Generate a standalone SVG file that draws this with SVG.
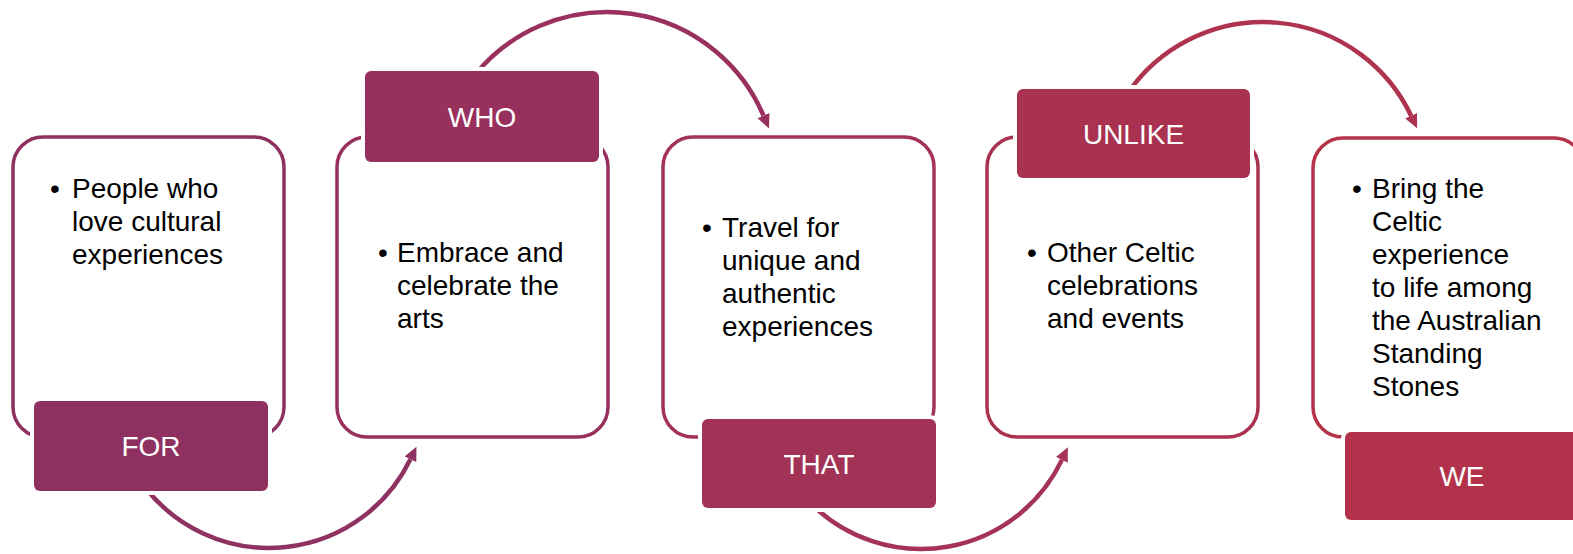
<svg xmlns="http://www.w3.org/2000/svg" width="1573" height="554" viewBox="0 0 1573 554">
  <style>
    .box { fill: #ffffff; stroke-width: 3.5; }
    .lbl { stroke: #ffffff; stroke-width: 8; paint-order: stroke; }
    .lt { font-family: "Liberation Sans", Arial, sans-serif; font-size: 28px; fill: #ffffff; text-anchor: middle; }
    .bt { font-family: "Liberation Sans", Arial, sans-serif; font-size: 28px; fill: #000000; }
    .arc { fill: none; stroke-width: 4.5; }
  </style>
  <defs>
    <marker id="ah1" markerUnits="userSpaceOnUse" viewBox="0 -7 16 14" refX="0" refY="0" markerWidth="16" markerHeight="14" orient="auto"><path d="M0,-6.5 L14,0 L0,6.5 Z" fill="#8F3262"/></marker>
    <marker id="ah2" markerUnits="userSpaceOnUse" viewBox="0 -7 16 14" refX="0" refY="0" markerWidth="16" markerHeight="14" orient="auto"><path d="M0,-6.5 L14,0 L0,6.5 Z" fill="#99305E"/></marker>
    <marker id="ah3" markerUnits="userSpaceOnUse" viewBox="0 -7 16 14" refX="0" refY="0" markerWidth="16" markerHeight="14" orient="auto"><path d="M0,-6.5 L14,0 L0,6.5 Z" fill="#A43357"/></marker>
    <marker id="ah4" markerUnits="userSpaceOnUse" viewBox="0 -7 16 14" refX="0" refY="0" markerWidth="16" markerHeight="14" orient="auto"><path d="M0,-6.5 L14,0 L0,6.5 Z" fill="#AE334E"/></marker>
  </defs>

  <g id="connectors">
    <path class="arc" stroke="#8F3262" d="M145.6,488 A157,157 0 0 0 410.4,459.3" marker-end="url(#ah1)"/>
    <path class="arc" stroke="#99305E" d="M475.7,74 A170,170 0 0 1 763.5,115.6" marker-end="url(#ah2)"/>
    <path class="arc" stroke="#A43357" d="M812.4,505 A156,156 0 0 0 1061.9,459.9" marker-end="url(#ah3)"/>
    <path class="arc" stroke="#AE334E" d="M1128.6,92 A164,164 0 0 1 1411.1,115.7" marker-end="url(#ah4)"/>
  </g>

  <g id="node-for">
    <rect class="box" x="13" y="137" width="271" height="300" rx="30" stroke="#8E3160"/>
    <text class="bt" x="50" y="198">•</text>
    <text class="bt"><tspan x="72" y="198">People who</tspan><tspan x="72" y="231">love cultural</tspan><tspan x="72" y="264">experiences</tspan></text>
    <rect class="lbl" x="34" y="401" width="234" height="90" rx="6" fill="#8E3160"/>
    <text class="lt" x="151" y="456">FOR</text>
  </g>

  <g id="node-who">
    <rect class="box" x="337" y="137" width="271" height="300" rx="30" stroke="#98305E"/>
    <text class="bt" x="378" y="262">•</text>
    <text class="bt"><tspan x="397" y="262">Embrace and</tspan><tspan x="397" y="295">celebrate the</tspan><tspan x="397" y="328">arts</tspan></text>
    <rect class="lbl" x="365" y="71" width="234" height="91" rx="6" fill="#98305E"/>
    <text class="lt" x="482" y="126.5">WHO</text>
  </g>

  <g id="node-that">
    <rect class="box" x="663" y="137" width="271" height="300" rx="30" stroke="#A23356"/>
    <text class="bt" x="702" y="237">•</text>
    <text class="bt"><tspan x="722" y="237">Travel for</tspan><tspan x="722" y="270">unique and</tspan><tspan x="722" y="303">authentic</tspan><tspan x="722" y="336">experiences</tspan></text>
    <rect class="lbl" x="702" y="419" width="234" height="89" rx="6" fill="#A23356"/>
    <text class="lt" x="819" y="473.5">THAT</text>
  </g>

  <g id="node-unlike">
    <rect class="box" x="987" y="137" width="271" height="300" rx="30" stroke="#A93250"/>
    <text class="bt" x="1027" y="262">•</text>
    <text class="bt"><tspan x="1047" y="262">Other Celtic</tspan><tspan x="1047" y="295">celebrations</tspan><tspan x="1047" y="328">and events</tspan></text>
    <rect class="lbl" x="1017" y="89" width="233" height="89" rx="6" fill="#A93250"/>
    <text class="lt" x="1133.5" y="143.5">UNLIKE</text>
  </g>

  <g id="node-we">
    <rect class="box" x="1313" y="138" width="271" height="299" rx="30" stroke="#B4334A"/>
    <text class="bt" x="1352" y="198">•</text>
    <text class="bt"><tspan x="1372" y="198">Bring the</tspan><tspan x="1372" y="231">Celtic</tspan><tspan x="1372" y="264">experience</tspan><tspan x="1372" y="297">to life among</tspan><tspan x="1372" y="330">the Australian</tspan><tspan x="1372" y="363">Standing</tspan><tspan x="1372" y="396">Stones</tspan></text>
    <rect class="lbl" x="1345" y="432" width="234" height="88" rx="6" fill="#B1324A"/>
    <text class="lt" x="1462" y="486">WE</text>
  </g>
</svg>
